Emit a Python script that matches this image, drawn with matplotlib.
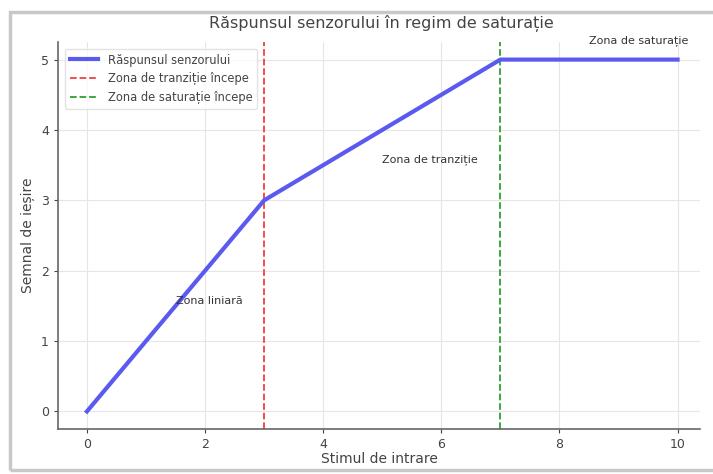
import matplotlib
matplotlib.use("Agg")
import matplotlib.pyplot as plt
from matplotlib.patches import Rectangle

x_vals = [0, 3, 7, 10]
y_vals = [0, 3, 5, 5]
transition_start = 3
saturation_start = 7
title = "Răspunsul senzorului în regim de saturație"
xlabel = "Stimul de intrare"
ylabel = "Semnal de ieșire"
annotations = [(1.5, 1.5, "Zona liniară"), (5, 3.5, "Zona de tranziție"), (8.5, 5.2, "Zona de saturație")]

W, H = 713, 474
fig = plt.figure(figsize=(W / 100, H / 100), dpi=100)
fig.patch.set_facecolor("white")

# screenshot-like frame
fig.patches.append(Rectangle((10 / W, 4 / H), 1.2, (H - 16) / H, transform=fig.transFigure,
                             fill=False, edgecolor="#c8c8c8", linewidth=2.5, zorder=0))

ax = fig.add_axes([58 / W, 1 - 429 / H, (700 - 58) / W, (429 - 42) / H])
ax.plot(x_vals, y_vals, color="#5a5af0", linewidth=3, label="Răspunsul senzorului", zorder=3)
ax.axvline(transition_start, color="#f04040", linestyle="--", linewidth=1.3, label="Zona de tranziție începe")
ax.axvline(saturation_start, color="#30a030", linestyle="--", linewidth=1.3, label="Zona de saturație începe")

for tx, ty, t in annotations:
    ax.text(tx, ty, t, fontsize=8, color="#333333", ha="left", va="bottom")

ax.set_xlim(-0.49, 10.38)
ax.set_ylim(-0.25, 5.25)
ax.set_xticks([0, 2, 4, 6, 8, 10])
ax.set_yticks([0, 1, 2, 3, 4, 5])
ax.tick_params(labelsize=9, colors="#444444", length=3)
ax.grid(True, color="#e6e6e6", linewidth=0.8)
for s in ["top", "right"]:
    ax.spines[s].set_visible(False)
for s in ["left", "bottom"]:
    ax.spines[s].set_color("#666666")
    ax.spines[s].set_linewidth(1.2)

ax.set_xlabel(xlabel, fontsize=10, color="#444444", labelpad=1)
ax.set_ylabel(ylabel, fontsize=10, color="#444444", labelpad=4)
fig.text(381 / W, 1 - 23 / H, title, fontsize=11.5, color="#444444", ha="center", va="center")

leg = ax.legend(loc="upper left", fontsize=8.3, frameon=True, borderaxespad=0.6, handlelength=2.5)
leg.get_frame().set_edgecolor("#dddddd")
for t in leg.get_texts():
    t.set_color("#444444")

fig.savefig("out.png", dpi=100)
